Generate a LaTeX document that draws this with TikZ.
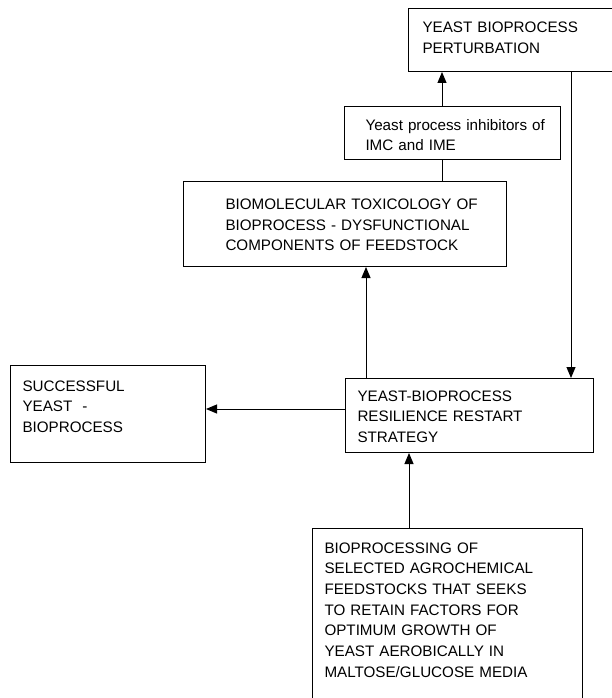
\documentclass[tikz,border=0pt]{standalone}
\usepackage{fontspec}
\setmainfont{Liberation Sans}
\usetikzlibrary{arrows.meta}
\tikzset{
  box/.style={draw, line width=1pt, anchor=north west, inner sep=0pt, align=left,
    font=\fontsize{15.2}{20.7}\selectfont},
  pad/.style={execute at begin node={\leftskip=#1}},
  arr/.style={line width=1pt, -{Triangle[length=11pt,width=9pt]}}
}
\begin{document}
\begin{tikzpicture}[x=1pt,y=-1pt]
\useasboundingbox (0,0) rectangle (612,698);
\clip (0,0) rectangle (612,698);
\node[box, pad=14pt, text width=232pt, text height=24.5pt, text depth=38.5pt] (pert) at (408,8)
  {YEAST BIOPROCESS\\PERTURBATION};
\node[box, pad=21pt, text width=216pt, text height=23.5pt, text depth=29pt] (inhib) at (344,106)
  {Yeast process inhibitors of\\IMC and IME};
\node[box, pad=42pt, text width=323pt, text height=28pt, text depth=57pt] (tox) at (183,181)
  {BIOMOLECULAR TOXICOLOGY OF\\BIOPROCESS - DYSFUNCTIONAL\\COMPONENTS OF FEEDSTOCK};
\node[box, pad=12pt, text width=248pt, text height=22.7pt, text depth=51.3pt] (restart) at (345,378)
  {YEAST-BIOPROCESS\\RESILIENCE RESTART\\STRATEGY};
\node[box, pad=12pt, text width=195pt, text height=25.7pt, text depth=71.3pt] (success) at (10,365)
  {SUCCESSFUL\\YEAST \ -\\BIOPROCESS};
\node[box, pad=12pt, text width=270pt, text height=24.5pt, text depth=200pt] (feed) at (312,528)
  {BIOPROCESSING OF\\SELECTED AGROCHEMICAL\\FEEDSTOCKS THAT SEEKS\\TO RETAIN FACTORS FOR\\OPTIMUM GROWTH OF\\YEAST AEROBICALLY IN\\MALTOSE/GLUCOSE MEDIA};
% connector positions
\coordinate (spine) at (442,0);
\coordinate (drop) at (571,0);
\coordinate (riser) at (366,0);
\coordinate (feedx) at (409,0);
\coordinate (mid) at (0,409);
\draw[arr] (inhib.north -| spine) -- (pert.south -| spine);
\draw[line width=1pt] (tox.north -| spine) -- (inhib.south -| spine);
\draw[arr] (pert.south -| drop) -- (restart.north -| drop);
\draw[arr] (restart.north -| riser) -- (tox.south -| riser);
\draw[arr] (restart.west |- mid) -- (success.east |- mid);
\draw[arr] (feed.north -| feedx) -- (restart.south -| feedx);
\end{tikzpicture}
\end{document}
